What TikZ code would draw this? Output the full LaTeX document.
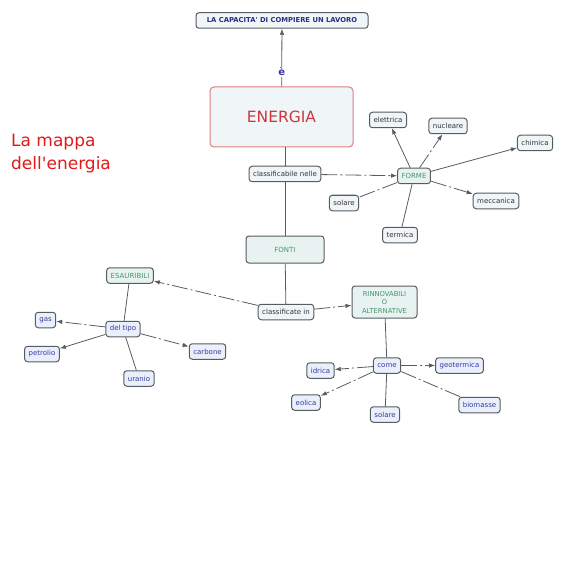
\documentclass[tikz,border=0pt]{standalone}
\usepackage{fontspec}
\setmainfont{DejaVu Sans}
\usetikzlibrary{positioning, arrows.meta}

\begin{document}
\begin{tikzpicture}[
    x=1pt, y=-1pt,
    concept/.style = {rectangle, draw=edge, fill=pale, rounded corners=3pt, line width=1pt, inner xsep=4pt, inner ysep=0pt, minimum height=15.5pt, text=ink, font=\fontsize{7}{8.5}\selectfont, align=center},
    leaf/.style = {concept},
    kind/.style = {concept, fill=paleblue, text=inkblue},
    group/.style = {concept, fill=paleteal, text=softgreen},
    mainbox/.style = {rectangle, draw=energyred!65, fill=pale, rounded corners=4pt, line width=1pt, minimum width=143pt, minimum height=60pt, text=energyred, font=\fontsize{15.5}{18}\selectfont},
    verb/.style = {fill=white, inner sep=1pt, text=inkblue, font=\fontsize{10}{11}\selectfont\bfseries},
    arrow/.style = {draw=edge, -{Latex[length=6pt, width=4.5pt]}, line width=0.8pt},
    line/.style = {draw=edge, line width=0.8pt},
    dashdot/.style = {dash pattern=on 16pt off 3pt on 2pt off 3pt}
]
    % Colors definition
    \definecolor{edge}{RGB}{88, 92, 96}
    \definecolor{pale}{RGB}{240, 245, 248}
    \definecolor{paleblue}{RGB}{234, 240, 251}
    \definecolor{paleteal}{RGB}{232, 243, 241}
    \definecolor{softgreen}{RGB}{70, 150, 105}
    \definecolor{inkblue}{RGB}{55, 55, 165}
    \definecolor{ink}{RGB}{50, 52, 56}
    \definecolor{energyred}{RGB}{205, 55, 60}
    \definecolor{titlered}{RGB}{225, 25, 25}

    \useasboundingbox (0,0) rectangle (585,585);

    % Title
    \node (title) [anchor=north west, align=left, text=titlered, font=\fontsize{17}{23}\selectfont, inner sep=0pt] at (11,134) {La mappa\\dell\textquotesingle energia};

    % Top of the map
    \node (capacita) [concept, text=inkblue!80!black, font=\fontsize{6.8}{8}\selectfont\bfseries, minimum width=172pt] at (282,20.5) {LA CAPACITA\textquotesingle{} DI COMPIERE UN LAVORO};
    \node (energia) [mainbox] at (281.5,117) {ENERGIA};
    \node (nelle) [concept] at (285,174) {classificabile nelle};

    % Forme
    \node (forme) [group] at (414,176) {FORME};
    \node (elettrica) [leaf] at (388,120) {elettrica};
    \node (nucleare) [leaf] at (448,126) {nucleare};
    \node (chimica) [leaf] at (535,143) {chimica};
    \node (solareF) [leaf] at (344,203) {solare};
    \node (meccanica) [leaf] at (496,201) {meccanica};
    \node (termica) [leaf] at (400,235) {termica};

    % Fonti
    \node (fonti) [group, minimum width=78pt, minimum height=27pt] at (285,249.5) {FONTI};
    \node (classin) [concept] at (286,312) {classificate in};
    \node (esauribili) [group] at (130,275.5) {ESAURIBILI};
    \node (rinnovabili) [group, minimum width=65pt, minimum height=32pt, font=\fontsize{6.8}{8.5}\selectfont] at (384.5,302) {RINNOVABILI\\O\\ALTERNATIVE};

    % Esauribili
    \node (deltipo) [kind] at (123,329) {del tipo};
    \node (gas) [kind] at (45.5,320) {gas};
    \node (petrolio) [kind] at (42,354) {petrolio};
    \node (carbone) [kind] at (207.5,351.5) {carbone};
    \node (uranio) [kind] at (139,378.5) {uranio};

    % Rinnovabili
    \node (come) [kind] at (387,365.5) {come};
    \node (idrica) [kind] at (320.5,370.5) {idrica};
    \node (geotermica) [kind] at (459.5,365.5) {geotermica};
    \node (eolica) [kind] at (306,402.5) {eolica};
    \node (solareR) [kind] at (385,414.5) {solare};
    \node (biomasse) [kind] at (479.5,405) {biomasse};

    % Connections
    \draw [arrow] (energia) -- node[verb, pos=0.25] {è} (capacita);
    \draw [line] (energia.south -| nelle) -- (nelle);
    \draw [line] (nelle) -- (fonti);
    \draw [arrow, dashdot] (nelle) -- (forme);

    \draw [arrow] (forme) -- (elettrica);
    \draw [arrow, dashdot] (forme) -- (nucleare);
    \draw [arrow] (forme) -- (chimica);
    \draw [arrow, dashdot] (forme) -- (meccanica);
    \draw [line, dashdot] (forme) -- (solareF);
    \draw [line] (forme) -- (termica);

    \draw [line] (fonti) -- (classin);
    \draw [arrow, dashdot] (classin) -- (esauribili);
    \draw [arrow, dashdot] (classin) -- (rinnovabili);

    \draw [line] (esauribili) -- (deltipo);
    \draw [arrow, dashdot] (deltipo) -- (gas);
    \draw [arrow] (deltipo) -- (petrolio);
    \draw [arrow, dashdot] (deltipo) -- (carbone);
    \draw [line] (deltipo) -- (uranio);

    \draw [line] (rinnovabili) -- (come);
    \draw [arrow, dashdot] (come) -- (idrica);
    \draw [arrow, dashdot] (come) -- (geotermica);
    \draw [arrow, dashdot] (come) -- (eolica);
    \draw [line] (come) -- (solareR);
    \draw [line, dashdot] (come) -- (biomasse);

\end{tikzpicture}
\end{document}
